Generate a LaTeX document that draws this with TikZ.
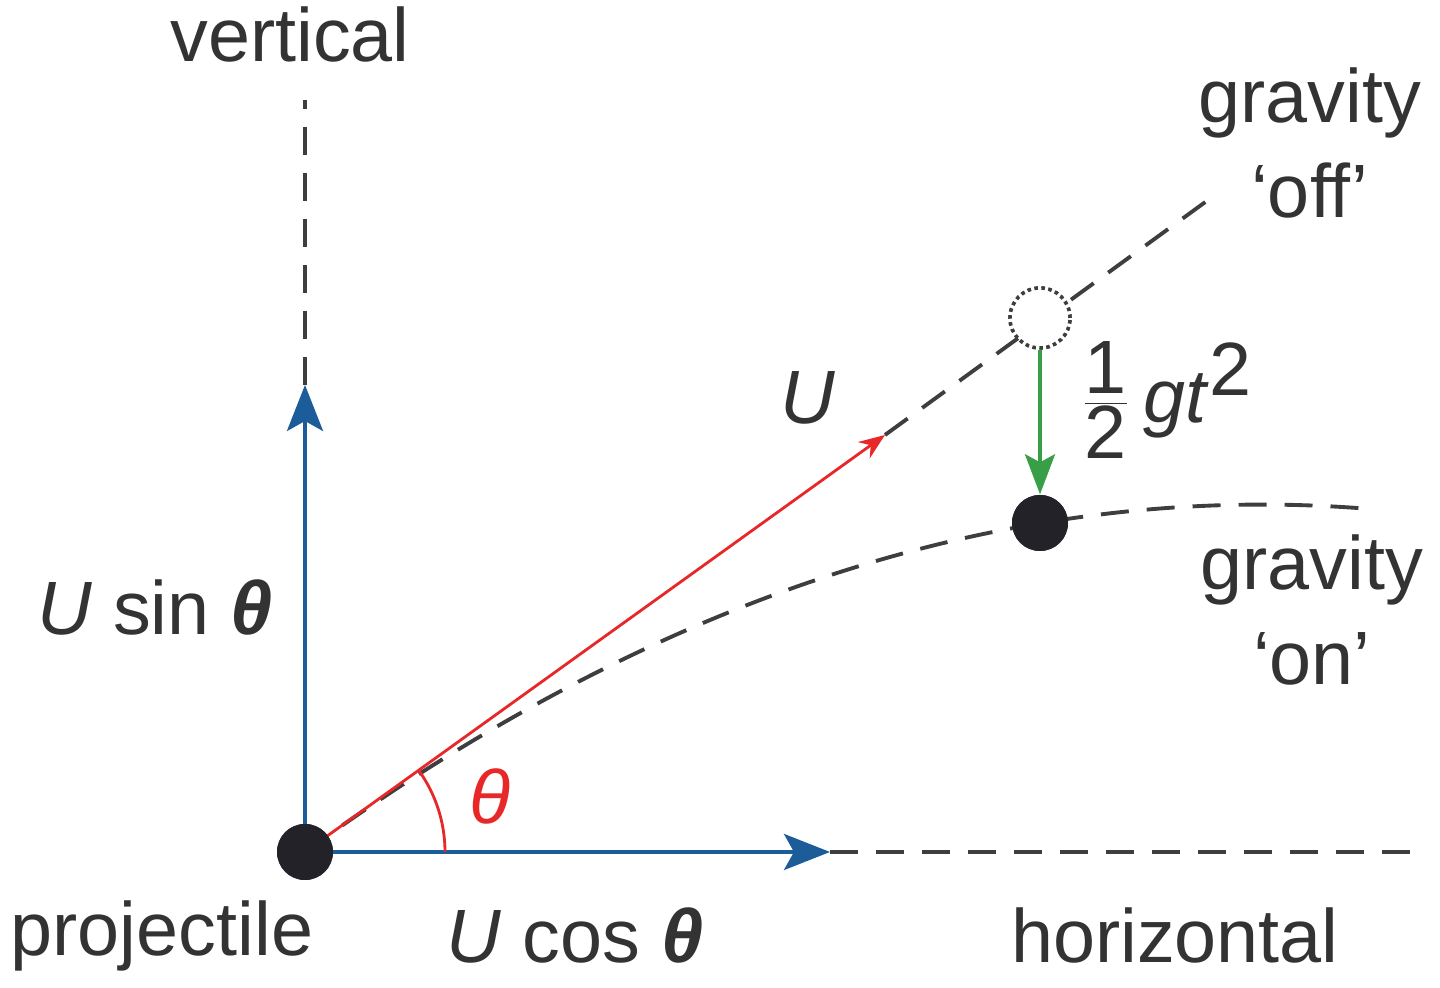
\documentclass[tikz,border=0pt]{standalone}
\usepackage{fontspec}
\setmainfont{Liberation Sans}
\usepackage{tikz}
\usetikzlibrary{arrows.meta,positioning}
\definecolor{compblue}{RGB}{28,92,152}
\definecolor{velred}{RGB}{232,40,40}
\definecolor{dropgreen}{RGB}{56,158,72}
\definecolor{pathgrey}{RGB}{62,62,62}
\definecolor{ballblack}{RGB}{34,34,40}

\begin{document}
\begin{tikzpicture}[
    label/.style={font=\fontsize{21.5}{25}\selectfont, text=black!80, inner sep=0pt},
    component/.style={compblue, line width=1.1pt, -{Stealth[length=0.46cm, width=0.36cm, inset=0.1cm]}},
    guide/.style={pathgrey, line width=1.1pt, dash pattern=on 0.28cm off 0.18cm},
    ball/.style={circle, fill=ballblack, minimum size=0.56cm, inner sep=0pt},
    ghost/.style={circle, draw=pathgrey, fill=white, densely dotted, line width=1pt, minimum size=0.6cm, inner sep=0pt}
]
    \useasboundingbox (0,0) rectangle (14.4,9.88);

    \node[ball] (proj) at (3.05,1.36) {};
    \node[ghost] (offpos) at (10.40,6.70) {};
    \node[ball] (onpos) at (10.40,4.65) {};

    \coordinate (vtip) at (3.05,6.03);
    \coordinate (vtop) at (3.05,8.88);
    \coordinate (htip) at (8.30,1.36);
    \coordinate (hend) at (14.10,1.36);
    \coordinate (utip) at (8.85,5.53);
    \coordinate (offend) at (12.15,7.93);
    \coordinate (onend) at (13.70,4.79);

    \draw[guide] (vtip) -- (vtop);
    \draw[guide] (htip) -- (hend);
    \draw[guide] (utip) -- (offend);
    \draw[guide] (proj.center) .. controls (6.60,3.94) and (10.15,5.08) .. (onend);

    \draw[component] (proj.center) -- (vtip);
    \draw[component] (proj.center) -- (htip);
    \draw[velred, line width=0.8pt, -{Stealth[length=0.26cm, width=0.2cm]}] (proj.center) -- (utip);
    \draw[velred, line width=0.8pt] ([shift={(0:1.40)}]proj.center) arc[start angle=0, end angle=35.8, radius=1.40];
    \draw[dropgreen, line width=1pt, -{Stealth[length=0.4cm, width=0.3cm, inset=0.08cm]}] (offpos.south) -- (onpos.north);

    \node[ball] at (proj) {};
    \node[ghost] at (offpos) {};
    \node[ball] at (onpos) {};

    \node[label] (vlabel) at (2.90,9.53) {vertical};
    \node[label, align=center] (offlabel) at (13.10,8.45) {gravity\\[0.08cm]‘off’};
    \node[label, align=center] (onlabel) at (13.12,3.78) {gravity\\[0.08cm]‘on’};
    \node[label] (ulabel) at (8.08,5.90) {\textit{U}};
    \node[label] (droplabel) at (11.67,5.88) {$\frac{\mbox{1}}{\mbox{2}}$\,\textit{gt}$^{\mbox{2}}$};
    \node[label] (sinlabel) at (1.55,3.80) {\textit{U} sin \textbf{\textit{θ}}};
    \node[label, text=velred] (anglelabel) at (4.90,1.91) {\textit{θ}};
    \node[label] (projlabel) at (1.62,0.52) {projectile};
    \node[label] (coslabel) at (5.75,0.52) {\textit{U} cos \textbf{\textit{θ}}};
    \node[label] (hlabel) at (11.75,0.52) {horizontal};
\end{tikzpicture}
\end{document}
